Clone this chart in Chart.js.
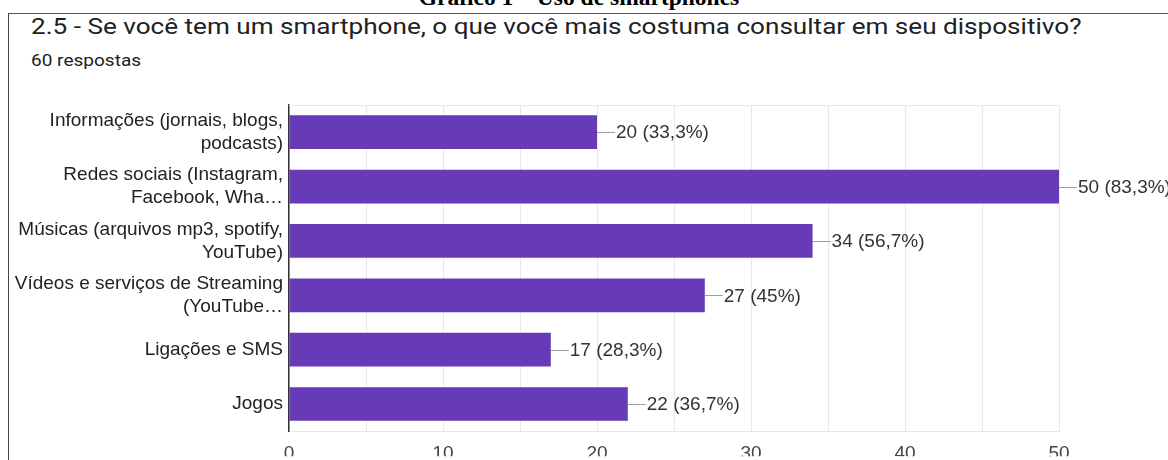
<!DOCTYPE html>
<html lang="pt-BR">
<head>
<meta charset="utf-8">
<title>Uso de smartphones</title>
<script src="https://cdn.jsdelivr.net/npm/chart.js@4.4.1/dist/chart.umd.min.js"></script>
<style>
  html, body { margin: 0; padding: 0; background: #fff; overflow: hidden; }
  #page { position: relative; width: 1168px; height: 460px; overflow: hidden; }
  #legenda { position: absolute; left: 0; width: 1158px; top: -16px; text-align: center;
             font: bold 23.5px "Liberation Serif", serif; color: #000; white-space: nowrap; }
  #quadro { position: absolute; left: 8px; top: 13px; width: 1200px; height: 500px;
            border-left: 1.5px solid #444; border-top: 1.5px solid #555; }
  #pergunta { position: absolute; left: 31px; top: 12.5px; font: 22.5px Roboto, sans-serif; color: #202124;
              white-space: nowrap; transform: scaleX(1.16); transform-origin: 0 0; }
  #respostas { position: absolute; left: 31px; top: 50px; font: 17px Roboto, sans-serif; color: #202124;
               white-space: nowrap; transform: scaleX(1.12); transform-origin: 0 0; }
  #grafico { position: absolute; left: 0; top: 0; }
</style>
</head>
<body>
<div id="page">
  <div id="legenda">Gráfico 1 – Uso de smartphones</div>
  <div id="quadro"></div>
  <div id="pergunta">2.5 - Se você tem um smartphone, o que você mais costuma consultar em seu dispositivo?</div>
  <div id="respostas">60 respostas</div>
  <canvas id="grafico" width="1168" height="460"></canvas>
</div>
<script>
// dados
const categorias = [
    ['Informações (jornais, blogs,', 'podcasts)'],
    ['Redes sociais (Instagram,', 'Facebook, Wha…'],
    ['Músicas (arquivos mp3, spotify,', 'YouTube)'],
    ['Vídeos e serviços de Streaming', '(YouTube…'],
    'Ligações e SMS',
    'Jogos'
];
const respostas = [20, 50, 34, 27, 17, 22];
const percentuais = ['33,3%', '83,3%', '56,7%', '45%', '28,3%', '36,7%'];
const ticksX = [0, 10, 20, 30, 40, 50];

const roxo = '#673ab7';
const corGrade = '#e8e8e8';

// linha superior da área do gráfico
const molduraPlugin = {
    id: 'moldura',
    beforeDatasetsDraw(chart) {
        const { ctx, chartArea } = chart;
        ctx.save();
        ctx.strokeStyle = corGrade;
        ctx.lineWidth = 1;
        ctx.beginPath();
        ctx.moveTo(chartArea.left, chartArea.top + 0.5);
        ctx.lineTo(chartArea.right, chartArea.top + 0.5);
        ctx.stroke();
        ctx.restore();
    }
};

// rótulo "n (x%)" com traço ligando à barra
const rotulosPlugin = {
    id: 'rotulos',
    afterDatasetsDraw(chart) {
        const { ctx } = chart;
        const meta = chart.getDatasetMeta(0);
        ctx.save();
        ctx.font = '19px "Liberation Sans", Arial, sans-serif';
        ctx.textBaseline = 'middle';
        ctx.textAlign = 'left';
        meta.data.forEach((barra, i) => {
            ctx.strokeStyle = '#9e9e9e';
            ctx.lineWidth = 1;
            ctx.beginPath();
            ctx.moveTo(barra.x, Math.round(barra.y) + 0.5);
            ctx.lineTo(barra.x + 18, Math.round(barra.y) + 0.5);
            ctx.stroke();
            ctx.fillStyle = '#333';
            ctx.fillText(respostas[i] + ' (' + percentuais[i] + ')', barra.x + 19, barra.y + 1);
        });
        ctx.restore();
    }
};

const ctx = document.getElementById('grafico').getContext('2d');
const grafico = new Chart(ctx, {
    type: 'bar',
    data: {
        labels: categorias,
        datasets: [{
            data: respostas,
            backgroundColor: roxo,
            borderWidth: 0,
            categoryPercentage: 1,
            barPercentage: 0.62
        }]
    },
    options: {
        indexAxis: 'y',
        responsive: false,
        animation: false,
        devicePixelRatio: 1,
        layout: { padding: { left: 0, right: 109, top: 105, bottom: 0 } },
        scales: {
            x: {
                min: 0,
                max: 50,
                afterFit: (escala) => { escala.height = 25; },
                afterBuildTicks: (escala) => {
                    const t = [];
                    for (let v = 0; v <= 50; v += 5) t.push({ value: v });
                    escala.ticks = t;
                },
                ticks: {
                    autoSkip: false,
                    maxRotation: 0,
                    padding: 11,
                    color: '#444',
                    font: { family: "'Liberation Sans', Arial, sans-serif", size: 19 },
                    callback: (v) => ticksX.includes(v) ? String(v) : ''
                },
                grid: { color: corGrade, drawTicks: false },
                border: { display: true, color: corGrade }
            },
            y: {
                afterFit: (escala) => { escala.width = 289; },
                ticks: {
                    padding: 6,
                    color: '#222',
                    font: { family: "'Liberation Sans', Arial, sans-serif", size: 19, lineHeight: 1.2 }
                },
                grid: { display: false, drawTicks: false },
                border: { display: true, color: '#333', width: 1.5 }
            }
        },
        plugins: {
            legend: { display: false },
            title: { display: false },
            tooltip: { enabled: false }
        }
    },
    plugins: [molduraPlugin, rotulosPlugin]
});
</script>
</body>
</html>
